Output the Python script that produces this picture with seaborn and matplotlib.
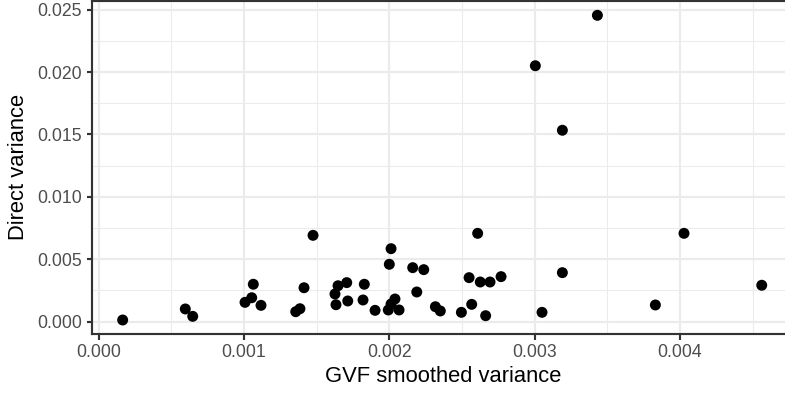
import matplotlib
matplotlib.use("Agg")
import matplotlib.pyplot as plt
import seaborn as sns
import pandas as pd
from matplotlib.ticker import MultipleLocator, FixedLocator

# GVF smoothed variance vs. direct variance estimates
gvf_variance = [
    0.000165, 0.000596, 0.000647, 0.001007, 0.001053, 0.001064, 0.001117,
    0.001356, 0.001385, 0.001413, 0.001475, 0.001633, 0.001626, 0.001647,
    0.001707, 0.001714, 0.001819, 0.001828, 0.001902, 0.001993, 0.002012,
    0.002039, 0.002067, 0.002000, 0.002012, 0.002161, 0.002237, 0.002189,
    0.002317, 0.002351, 0.002496, 0.002567, 0.002549, 0.002608, 0.002626,
    0.002693, 0.002769, 0.002663, 0.003051, 0.003191, 0.003831, 0.004028,
    0.004563, 0.003432, 0.003005, 0.003191,
]
direct_variance = [
    0.000136, 0.00102, 0.00043, 0.00155, 0.00192, 0.00300, 0.00131,
    0.00080, 0.00104, 0.00272, 0.00692, 0.00136, 0.00222, 0.00288,
    0.00313, 0.00166, 0.00174, 0.00300, 0.00091, 0.00094, 0.00142,
    0.00182, 0.00094, 0.00460, 0.00585, 0.00433, 0.00417, 0.00238,
    0.00120, 0.00086, 0.00075, 0.00139, 0.00353, 0.00708, 0.00318,
    0.00318, 0.00361, 0.00048, 0.00075, 0.00393, 0.00134, 0.00708,
    0.00292, 0.02455, 0.02051, 0.01534,
]

x_ticks = [0.000, 0.001, 0.002, 0.003, 0.004]
y_ticks = [0.000, 0.005, 0.010, 0.015, 0.020, 0.025]

df = pd.DataFrame({"gvf": gvf_variance, "direct": direct_variance})

sns.set_style("white")
plt.rcParams["font.family"] = ["Liberation Sans", "DejaVu Sans"]

dpi = 144
fig = plt.figure(figsize=(785 / dpi, 393 / dpi), dpi=dpi)
# the panel runs slightly past the right edge of the canvas
ax = fig.add_axes([92 / 785, 59 / 393, 701.7 / 785, 333.5 / 393])

sns.scatterplot(data=df, x="gvf", y="direct", ax=ax, color="black",
                s=30, edgecolor="none", linewidth=0, zorder=3)

ax.set_xlim(-0.0000461, 0.004783)
ax.set_ylim(-0.000986, 0.025737)

ax.xaxis.set_major_locator(FixedLocator(x_ticks))
ax.yaxis.set_major_locator(FixedLocator(y_ticks))
ax.xaxis.set_minor_locator(MultipleLocator(0.0005))
ax.yaxis.set_minor_locator(MultipleLocator(0.0025))
ax.set_xticklabels([f"{v:.3f}" for v in x_ticks])
ax.set_yticklabels([f"{v:.3f}" for v in y_ticks])

grid_col = "#EBEBEB"
ax.grid(which="major", color=grid_col, linewidth=1.07, zorder=0)
ax.grid(which="minor", color=grid_col, linewidth=0.53, zorder=0)
ax.set_axisbelow(True)

for spine in ax.spines.values():
    spine.set_visible(True)
    spine.set_color("#333333")
    spine.set_linewidth(1.07)

ax.tick_params(which="major", length=2.75, width=1.07, color="#333333",
               labelsize=8.8, labelcolor="#4D4D4D", pad=2.2,
               bottom=True, left=True)
ax.tick_params(which="minor", length=0, bottom=False, left=False)

ax.set_xlabel("GVF smoothed variance", fontsize=11, color="black", labelpad=2.5)
ax.set_ylabel("Direct variance", fontsize=11, color="black", labelpad=4)

fig.savefig("out.png", dpi=dpi, facecolor="white")
